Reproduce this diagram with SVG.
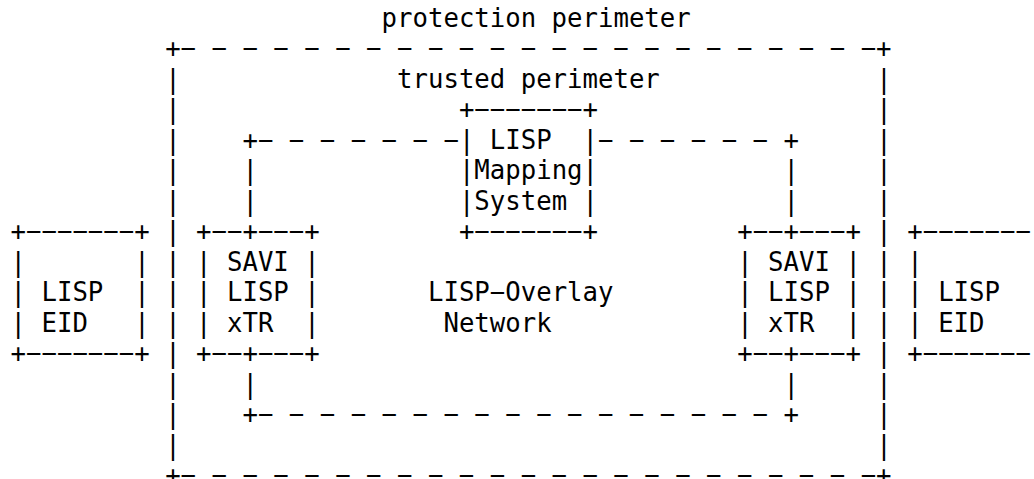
<svg xmlns="http://www.w3.org/2000/svg" width="1034" height="479" viewBox="0 0 1034 479" xml:space="preserve">
<style>
text { font-family: "DejaVu Sans Mono", "Liberation Mono", monospace; font-size: 25.68px; fill: #000; white-space: pre; }
</style>
<rect x="0" y="0" width="1034" height="479" fill="#fff"/>
<g id="protection-perimeter">
<text x="381.61" y="26.5">protection perimeter</text>
<text x="165.17" y="57">+− − − − − − − − − − − − − − − − − − − − − − −+</text>
<text x="165.17" y="87.5">|</text><text x="876.33" y="87.5">|</text>
<text x="165.17" y="118">|</text><text x="876.33" y="118">|</text>
<text x="165.17" y="148.5">|</text><text x="876.33" y="148.5">|</text>
<text x="165.17" y="179">|</text><text x="876.33" y="179">|</text>
<text x="165.17" y="209.5">|</text><text x="876.33" y="209.5">|</text>
<text x="165.17" y="240">|</text><text x="876.33" y="240">|</text>
<text x="165.17" y="270.5">|</text><text x="876.33" y="270.5">|</text>
<text x="165.17" y="301">|</text><text x="876.33" y="301">|</text>
<text x="165.17" y="331.5">|</text><text x="876.33" y="331.5">|</text>
<text x="165.17" y="362">|</text><text x="876.33" y="362">|</text>
<text x="165.17" y="392.5">|</text><text x="876.33" y="392.5">|</text>
<text x="165.17" y="423">|</text><text x="876.33" y="423">|</text>
<text x="165.17" y="453.5">|</text><text x="876.33" y="453.5">|</text>
<text x="165.17" y="484">+− − − − − − − − − − − − − − − − − − − − − − −+</text>
</g>
<g id="trusted-perimeter">
<text x="397.07" y="87.5">trusted perimeter</text>
</g>
<g id="lisp-mapping-system">
<text x="458.91" y="118">+−−−−−−−+</text>
<text x="458.91" y="148.5">| LISP  |</text>
<text x="458.91" y="179">|Mapping|</text>
<text x="458.91" y="209.5">|System |</text>
<text x="458.91" y="240">+−−−−−−−+</text>
</g>
<g id="left-lisp-eid">
<text x="10.57" y="240">+−−−−−−−+</text>
<text x="10.57" y="270.5">|       |</text>
<text x="10.57" y="301">| LISP  |</text>
<text x="10.57" y="331.5">| EID   |</text>
<text x="10.57" y="362">+−−−−−−−+</text>
</g>
<g id="left-savi-xtr">
<text x="196.09" y="240">+−−+−−−+</text>
<text x="196.09" y="270.5">| SAVI |</text>
<text x="196.09" y="301">| LISP |</text>
<text x="196.09" y="331.5">| xTR  |</text>
<text x="196.09" y="362">+−−+−−−+</text>
</g>
<g id="lisp-overlay-network">
<text x="427.99" y="301">LISP−Overlay</text>
<text x="443.45" y="331.5">Network</text>
</g>
<g id="right-savi-xtr">
<text x="737.19" y="240">+−−+−−−+</text>
<text x="737.19" y="270.5">| SAVI |</text>
<text x="737.19" y="301">| LISP |</text>
<text x="737.19" y="331.5">| xTR  |</text>
<text x="737.19" y="362">+−−+−−−+</text>
</g>
<g id="right-lisp-eid">
<text x="907.25" y="240">+−−−−−−−</text>
<text x="907.25" y="270.5">|</text>
<text x="907.25" y="301">| LISP</text>
<text x="907.25" y="331.5">| EID</text>
<text x="907.25" y="362">+−−−−−−−</text>
</g>
<g id="connectors">
<text x="242.47" y="148.5">+− − − − − − −</text>
<text x="598.05" y="148.5">− − − − − − +</text>
<text x="242.47" y="179">|</text><text x="783.57" y="179">|</text>
<text x="242.47" y="209.5">|</text><text x="783.57" y="209.5">|</text>
<text x="242.47" y="392.5">|</text><text x="783.57" y="392.5">|</text>
<text x="242.47" y="423">+− − − − − − − − − − − − − − − − − +</text>
</g>
</svg>
